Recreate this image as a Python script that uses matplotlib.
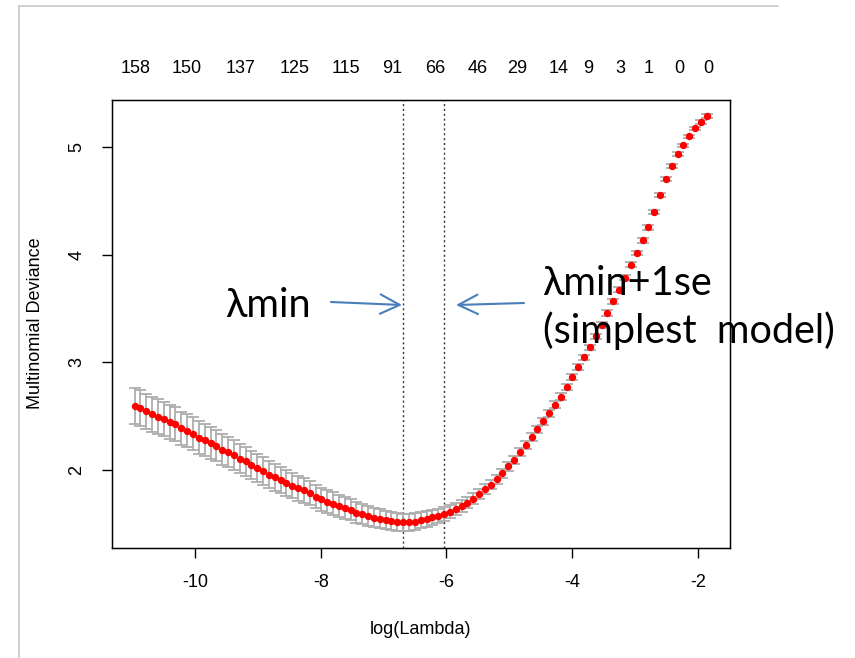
import numpy as np
import matplotlib
matplotlib.use("Agg")
import matplotlib.pyplot as plt
from matplotlib.lines import Line2D

plt.rcParams['font.family'] = ['Liberation Sans', 'DejaVu Sans']
plt.rcParams['axes.unicode_minus'] = False

# cv.glmnet curve
log_lambda = np.linspace(-10.96, -1.86, 99)
cvm = [2.598, 2.577, 2.546, 2.521, 2.499, 2.475, 2.447, 2.429, 2.391, 2.366,
       2.339, 2.304, 2.280, 2.255, 2.227, 2.193, 2.169, 2.141, 2.110, 2.085,
       2.051, 2.020, 1.995, 1.961, 1.937, 1.909, 1.887, 1.859, 1.835, 1.816,
       1.791, 1.757, 1.733, 1.708, 1.692, 1.668, 1.649, 1.634, 1.609, 1.594,
       1.578, 1.563, 1.551, 1.540, 1.532, 1.525, 1.519, 1.521, 1.526, 1.538,
       1.550, 1.564, 1.578, 1.594, 1.615, 1.644, 1.671, 1.701, 1.736, 1.779,
       1.825, 1.868, 1.918, 1.974, 2.037, 2.097, 2.170, 2.237, 2.311, 2.380,
       2.453, 2.531, 2.608, 2.684, 2.772, 2.863, 2.957, 3.046, 3.139, 3.241,
       3.347, 3.458, 3.566, 3.674, 3.783, 3.906, 4.015, 4.132, 4.252, 4.395,
       4.549, 4.701, 4.822, 4.933, 5.010, 5.094, 5.168, 5.227, 5.282]
cvsd = [0.165, 0.164, 0.162, 0.161, 0.160, 0.158, 0.157, 0.155, 0.154, 0.152,
        0.151, 0.149, 0.147, 0.146, 0.144, 0.142, 0.140, 0.138, 0.136, 0.134,
        0.132, 0.130, 0.128, 0.126, 0.124, 0.122, 0.120, 0.118, 0.116, 0.114,
        0.112, 0.110, 0.108, 0.106, 0.104, 0.102, 0.100, 0.098, 0.096, 0.094,
        0.092, 0.090, 0.088, 0.086, 0.084, 0.082, 0.080, 0.078, 0.076, 0.074,
        0.072, 0.069, 0.066, 0.063, 0.060, 0.057, 0.054, 0.052, 0.050, 0.048,
        0.046, 0.044, 0.042, 0.041, 0.040, 0.039, 0.038, 0.037, 0.036, 0.035,
        0.034, 0.033, 0.032, 0.031, 0.030, 0.029, 0.028, 0.027, 0.026, 0.025,
        0.025, 0.024, 0.024, 0.023, 0.023, 0.022, 0.022, 0.021, 0.021, 0.020,
        0.020, 0.019, 0.019, 0.018, 0.018, 0.017, 0.017, 0.016, 0.016]

# number of nonzero coefficients shown on top
nz_labels = ['158', '150', '137', '125', '115', '91', '66', '46', '29',
             '14', '9', '3', '1', '0', '0']
nz_pos = [-10.95, -10.13, -9.27, -8.41, -7.60, -6.87, -6.18, -5.50, -4.87,
          -4.21, -3.74, -3.24, -2.78, -2.29, -1.83]

cvm = np.array(cvm); cvsd = np.array(cvsd)
i_min = int(np.argmin(cvm))
ok = np.where(cvm <= cvm[i_min] + cvsd[i_min])[0]
i_1se = ok.max()

W, H = 855, 658
fig = plt.figure(figsize=(W/100, H/100), dpi=100)
ax = fig.add_axes([112/W, 1-548/H, (730-112)/W, (548-99.5)/H])

ax.errorbar(log_lambda, cvm, yerr=cvsd, fmt='none', ecolor='#AEAEAE',
            elinewidth=1.3, capsize=4.5, capthick=1.3, zorder=2)
ax.plot(log_lambda, cvm, 'o', color='red', ms=4.3, mec='red', zorder=3)
for i in (i_min, i_1se):
    ax.axvline(log_lambda[i], color='#333333', lw=1, ls=(0, (1.5, 2)), zorder=1)

ax.set_xlim(-11.32, -1.49)
ax.set_ylim(1.281, 5.436)
ax.set_xticks([-10, -8, -6, -4, -2])
ax.set_yticks([2, 3, 4, 5])
ax.tick_params(length=7.5, width=1, labelsize=13, pad=11.5)
ax.tick_params(axis='y', labelrotation=90)
for lab in ax.get_yticklabels():
    lab.set_va('center')
for s in ax.spines.values():
    s.set_linewidth(1)

ax2 = ax.twiny()
ax2.set_xlim(ax.get_xlim())
ax2.set_xticks(nz_pos, nz_labels)
ax2.tick_params(length=0, labelsize=13, pad=16)

fig.text(420/W, 1-634/H, 'log(Lambda)', fontsize=13, ha='center', va='baseline')
fig.text(35.7/W, 1-323/H, 'Multinomial Deviance', fontsize=13, rotation=90,
         ha='center', va='center')

# slide annotations
afont = ['Lato', 'Open Sans', 'DejaVu Sans']
fig.text(225/W, 1-317/H, 'λmin', fontsize=28.5, family=afont, va='baseline')
fig.text(542/W, 1-295/H, 'λmin+1se', fontsize=28.5, family=afont, va='baseline')
fig.text(543/W, 1-343/H, '(simplest  model)', fontsize=28.5, family=afont, va='baseline')
arrow = dict(arrowstyle='->,head_length=1.0,head_width=0.5', color='#4A7EBB',
             lw=1.5, mutation_scale=14, shrinkA=0, shrinkB=0)
ax.annotate('', xy=(402/W, 1-305/H), xytext=(331/W, 1-302/H),
            xycoords='figure fraction', arrowprops=arrow)
ax.annotate('', xy=(456/W, 1-305/H), xytext=(524/W, 1-303/H),
            xycoords='figure fraction', arrowprops=arrow)

# screenshot frame
fig.add_artist(Line2D([19.3/W, 19.3/W], [1-6/H, 0], transform=fig.transFigure,
                      color='#C8C8C8', lw=1.2))
fig.add_artist(Line2D([19.3/W, 778/W], [1-6/H, 1-6/H], transform=fig.transFigure,
                      color='#C8C8C8', lw=1.2))

fig.savefig('out.png', dpi=100)
